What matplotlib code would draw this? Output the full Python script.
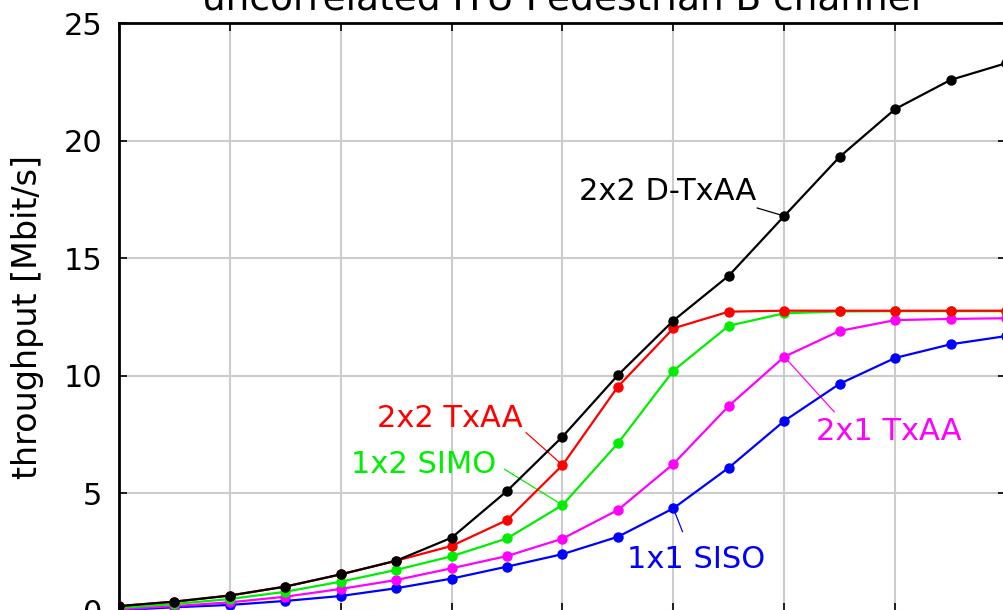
import matplotlib
matplotlib.use('Agg')
import matplotlib.pyplot as plt

# SNR axis in dB, one point every 2.5 dB
snr = [-10, -7.5, -5, -2.5, 0, 2.5, 5, 7.5, 10, 12.5, 15, 17.5, 20, 22.5, 25, 27.5, 30]

# throughput [Mbit/s]
siso_1x1 = [0.03, 0.15, 0.25, 0.42, 0.63, 0.96, 1.37, 1.88, 2.41, 3.15, 4.36, 6.09, 8.08, 9.66, 10.76, 11.34, 11.69]
txaa_2x1 = [0.07, 0.20, 0.36, 0.60, 0.93, 1.31, 1.81, 2.33, 3.07, 4.29, 6.25, 8.72, 10.81, 11.91, 12.37, 12.42, 12.45]
simo_1x2 = [0.12, 0.29, 0.50, 0.81, 1.24, 1.74, 2.32, 3.08, 4.50, 7.13, 10.22, 12.13, 12.66, 12.74, 12.75, 12.75, 12.75]
txaa_2x2 = [0.20, 0.39, 0.65, 1.03, 1.55, 2.13, 2.76, 3.86, 6.20, 9.54, 12.02, 12.73, 12.77, 12.77, 12.77, 12.77, 12.77]
dtxaa_2x2 = [0.20, 0.39, 0.65, 1.03, 1.55, 2.13, 3.11, 5.10, 7.41, 10.03, 12.35, 14.26, 16.80, 19.32, 21.35, 22.59, 23.30]

kurven = [
    (siso_1x1, '#0000ff', '1x1 SISO'),
    (txaa_2x1, '#ff00ff', '2x1 TxAA'),
    (simo_1x2, '#00ee00', '1x2 SIMO'),
    (txaa_2x2, '#ff0000', '2x2 TxAA'),
    (dtxaa_2x2, '#000000', '2x2 D-TxAA'),
]

# label text: (x, y, alignment), leader line start, index of the point it points to
etiquetas = {
    '2x2 D-TxAA': ((18.74, 17.48, 'right'), (18.78, 17.14), 12),
    '2x2 TxAA': ((8.2, 7.83, 'right'), (8.36, 7.58), 8),
    '1x2 SIMO': ((7.01, 5.86, 'right'), (7.39, 6.02), 8),
    '2x1 TxAA': ((21.43, 7.27, 'left'), (22.25, 8.47), 12),
    '1x1 SISO': ((12.93, 1.82, 'left'), (15.41, 3.37), 10),
}

fig = plt.figure(figsize=(10.04, 6.10), dpi=100)
ax = fig.add_axes([119 / 1004, -0.8 / 610, 887 / 1004, 587.5 / 610])

for datos, color, nombre in kurven:
    ax.plot(snr, datos, color=color, lw=1.6, marker='o', ms=6.5, zorder=3)
    (tx, ty, ha), (lx, ly), idx = etiquetas[nombre]
    ax.plot([lx, snr[idx]], [ly, datos[idx]], color=color, lw=0.9, zorder=2)
    ax.text(tx, ty, nombre, color=color, fontsize=22, ha=ha, va='baseline', zorder=4)

ax.set_xlim(-10, 30)
ax.set_ylim(0, 25)
ax.set_xticks(range(-10, 31, 5))
ax.set_yticks(range(0, 26, 5))
ax.grid(True, color='#cccccc', lw=1.5)
ax.set_axisbelow(True)
ax.tick_params(direction='in', length=6, width=1.2, top=True, right=True,
               labelsize=22, pad=12)
ax.tick_params(axis='x', labelbottom=False)
for s in ax.spines.values():
    s.set_linewidth(2)
ax.set_ylabel('throughput [Mbit/s]', fontsize=24, labelpad=14)

fig.text(562 / 1004, 1 - 9.3 / 610, 'uncorrelated ITU Pedestrian B channel',
         fontsize=27, ha='center', va='baseline')

fig.savefig('out.png', dpi=100)
